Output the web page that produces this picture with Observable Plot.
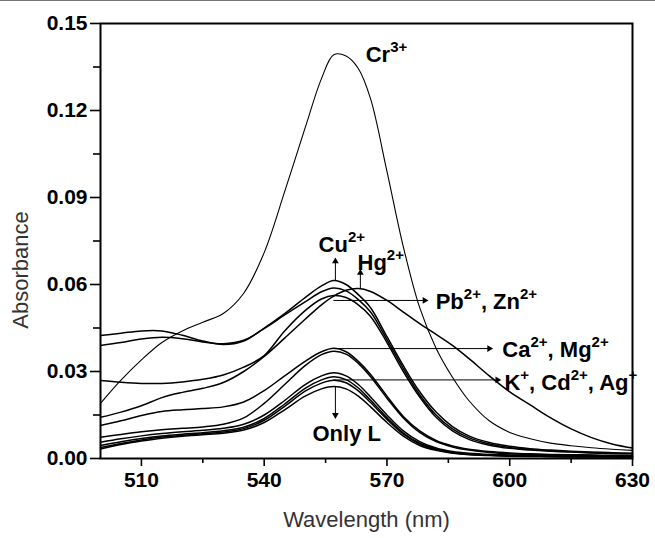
<!DOCTYPE html>
<html><head><meta charset="utf-8">
<script src="https://cdn.jsdelivr.net/npm/d3@7"></script>
<script src="https://cdn.jsdelivr.net/npm/@observablehq/plot@0.6"></script>
<style>
body{margin:0;background:#fff;}
#topline{position:absolute;left:0;top:0;width:655px;height:1px;background:#777;}
</style>
</head><body>
<div id="topline"></div>
<div id="chart"></div>
<script>
// ---- data ----
const wavelengths = [500,505,510,515,520,525,530,535,540,545,550,554,557,560,563,566,570,574,578,582,586,590,595,600,605,610,615,620,625,630];
const cr  = [0.0190,0.0270,0.0340,0.0400,0.0440,0.0470,0.0500,0.0570,0.0710,0.0920,0.1140,0.1310,0.1392,0.1388,0.1345,0.1240,0.0990,0.0730,0.0520,0.0380,0.0280,0.0200,0.0130,0.0090,0.0068,0.0053,0.0044,0.0037,0.0032,0.0028];
const cu  = [0.0424,0.0432,0.0440,0.0440,0.0425,0.0405,0.0393,0.0405,0.0450,0.0500,0.0555,0.0595,0.0614,0.0600,0.0565,0.0520,0.0420,0.0320,0.0230,0.0160,0.0110,0.0078,0.0055,0.0042,0.0034,0.0029,0.0025,0.0022,0.0020,0.0018];
const zn  = [0.0390,0.0400,0.0412,0.0418,0.0413,0.0402,0.0396,0.0408,0.0448,0.0495,0.0540,0.0575,0.0588,0.0578,0.0548,0.0505,0.0410,0.0310,0.0220,0.0150,0.0102,0.0072,0.0050,0.0038,0.0031,0.0026,0.0023,0.0020,0.0018,0.0017];
const pb  = [0.0269,0.0263,0.0259,0.0259,0.0264,0.0273,0.0288,0.0315,0.0355,0.0440,0.0510,0.0550,0.0562,0.0555,0.0530,0.0490,0.0400,0.0300,0.0212,0.0142,0.0095,0.0066,0.0046,0.0035,0.0029,0.0025,0.0022,0.0019,0.0017,0.0016];
const hg  = [0.0142,0.0160,0.0182,0.0210,0.0228,0.0242,0.0262,0.0300,0.0352,0.0415,0.0480,0.0530,0.0560,0.0580,0.0586,0.0576,0.0545,0.0505,0.0465,0.0428,0.0390,0.0345,0.0285,0.0230,0.0185,0.0140,0.0102,0.0072,0.0050,0.0036];
const ca  = [0.0114,0.0130,0.0148,0.0162,0.0168,0.0172,0.0178,0.0195,0.0234,0.0285,0.0335,0.0368,0.0380,0.0368,0.0335,0.0290,0.0215,0.0145,0.0095,0.0062,0.0043,0.0032,0.0024,0.0019,0.0016,0.0014,0.0013,0.0012,0.0011,0.0010];
const mg  = [0.0073,0.0083,0.0092,0.0099,0.0104,0.0109,0.0118,0.0140,0.0190,0.0255,0.0320,0.0358,0.0370,0.0360,0.0328,0.0282,0.0208,0.0140,0.0090,0.0058,0.0040,0.0029,0.0021,0.0016,0.0014,0.0012,0.0011,0.0010,0.0009,0.0009];
const kk  = [0.0056,0.0068,0.0078,0.0086,0.0092,0.0097,0.0104,0.0118,0.0150,0.0200,0.0255,0.0285,0.0296,0.0285,0.0255,0.0212,0.0150,0.0095,0.0058,0.0036,0.0024,0.0018,0.0014,0.0012,0.0010,0.0009,0.0008,0.0008,0.0007,0.0007];
const cd  = [0.0045,0.0058,0.0069,0.0078,0.0084,0.0089,0.0096,0.0108,0.0138,0.0188,0.0242,0.0271,0.0282,0.0272,0.0243,0.0201,0.0141,0.0088,0.0053,0.0033,0.0022,0.0016,0.0012,0.0010,0.0009,0.0008,0.0007,0.0007,0.0006,0.0006];
const ag  = [0.0038,0.0052,0.0064,0.0074,0.0080,0.0085,0.0091,0.0103,0.0132,0.0180,0.0232,0.0260,0.0270,0.0261,0.0233,0.0193,0.0135,0.0084,0.0050,0.0031,0.0020,0.0015,0.0011,0.0009,0.0008,0.0007,0.0006,0.0006,0.0005,0.0005];
const onlyL = [0.0033,0.0048,0.0060,0.0070,0.0077,0.0082,0.0087,0.0098,0.0124,0.0168,0.0215,0.0240,0.0248,0.0240,0.0215,0.0178,0.0124,0.0077,0.0045,0.0028,0.0018,0.0013,0.0010,0.0008,0.0007,0.0006,0.0005,0.0005,0.0005,0.0004];

const seriesNames  = ["Cr3+","Cu2+","Zn2+","Pb2+","Hg2+","Ca2+","Mg2+","K+","Cd2+","Ag+","Only L"];
const seriesValues = [cr, cu, zn, pb, hg, ca, mg, kk, cd, ag, onlyL];

const xTicks = [510,540,570,600,630];
const xMinorTicks = [525,555,585,615];
const yTicks = [0,0.03,0.06,0.09,0.12,0.15];
const yMinorTicks = [0.015,0.045,0.075,0.105,0.135];

const xLabel = "Wavelength (nm)";
const yLabel = "Absorbance";
const yLabelAt = 0.065; // y value where the rotated axis title is centred

// annotation text (^ marks a superscript) and anchor, in data units
const labelTexts = ["Cr^3+","Cu^2+","Hg^2+","Pb^2+, Zn^2+","Ca^2+, Mg^2+","K^+, Cd^2+, Ag^+","Only L"];
const labelX = [564.8, 553.3, 562.8, 581.9, 598.2, 598.7, 551.8];
const labelY = [0.1390, 0.0736, 0.0676, 0.0541, 0.0376, 0.0259, 0.0086];

// arrows: start -> end, in data units; dir = head rotation
const arrowX1 = [557.4, 563.5, 556.9, 556.9, 556.9, 557.4];
const arrowY1 = [0.0614, 0.0586, 0.0545, 0.0379, 0.0271, 0.0248];
const arrowX2 = [557.4, 563.5, 579.2, 595.0, 597.0, 557.4];
const arrowY2 = [0.0680, 0.0640, 0.0545, 0.0379, 0.0271, 0.0150];
const arrowDir = [0, 0, 90, 90, 90, 180];

// ---- build tables ----
const rows = seriesNames.flatMap((name, i) =>
  wavelengths.map((w, j) => ({name, w, a: seriesValues[i][j]})));
const labels = labelTexts.map((t, i) => ({t, x: labelX[i], y: labelY[i]}));
const arrows = arrowX1.map((_, i) => ({x1: arrowX1[i], y1: arrowY1[i], x2: arrowX2[i], y2: arrowY2[i], r: arrowDir[i]}));

const chart = Plot.plot({
  width: 655, height: 538,
  marginLeft: 100, marginRight: 23, marginTop: 23, marginBottom: 80,
  style: {fontFamily: "'Liberation Sans', Arial, sans-serif", background: "white", color: "black", overflow: "visible"},
  x: {domain: [500, 630]},
  y: {domain: [0, 0.15]},
  marks: [
    Plot.axisY(yMinorTicks, {tickSize: 7, tickFormat: () => "", strokeWidth: 1.6, label: null}),
    Plot.axisY(yTicks, {tickSize: 10, tickPadding: 3, tickFormat: d3.format(".2f"), fontSize: 21, fontWeight: "bold", strokeWidth: 1.6, label: null}),
    Plot.axisX(xMinorTicks, {tickSize: 5, tickFormat: () => "", strokeWidth: 1.6, label: null}),
    Plot.axisX(xTicks, {tickSize: 8, tickPadding: 6, tickFormat: d3.format("d"), fontSize: 21, fontWeight: "bold", strokeWidth: 1.6, label: null}),
    Plot.line(rows.filter(d => d.name !== "Cr3+"), {x: "w", y: "a", z: "name", stroke: "black", strokeWidth: 1.5, curve: "catmull-rom"}),
    Plot.line(rows.filter(d => d.name === "Cr3+"), {x: "w", y: "a", stroke: "black", strokeWidth: 1.1, curve: "catmull-rom"}),
    Plot.frame({stroke: "black", strokeWidth: 2}),
    Plot.link(arrows, {x1: "x1", y1: "y1", x2: "x2", y2: "y2", stroke: "black", strokeWidth: 1}),
    Plot.dot(arrows, {x: "x2", y: "y2", symbol: "triangle", r: 2.5, fill: "black", stroke: "none", rotate: "r"}),
    Plot.text(labels, {x: "x", y: "y", text: "t", textAnchor: "start", fontSize: 22, fontWeight: "bold", fill: "black"}),
    Plot.text([xLabel], {text: d => d, frameAnchor: "bottom", textAnchor: "middle", lineAnchor: "middle", dy: 61, fontSize: 22, fill: "#333"}),
    Plot.text([yLabel], {text: d => d, y: () => yLabelAt, frameAnchor: "left", textAnchor: "middle", lineAnchor: "middle", dx: -80, rotate: -90, fontSize: 22, fill: "#333"})
  ]
});

// render superscripts (text marked with ^) as tspans
const NS = "http://www.w3.org/2000/svg";
chart.querySelectorAll("text").forEach(el => {
  const s = el.textContent;
  if (!s.includes("^")) return;
  const parts = s.split(/\^([0-9]*[+\-])/);
  el.textContent = "";
  let raised = false;
  parts.forEach((p, i) => {
    if (p === "") return;
    const ts = document.createElementNS(NS, "tspan");
    ts.textContent = p;
    if (i % 2 === 1) {
      ts.setAttribute("font-size", "15");
      ts.setAttribute("dy", "-10");
      raised = true;
    } else if (raised) {
      ts.setAttribute("dy", "10");
      raised = false;
    }
    el.appendChild(ts);
  });
});

document.getElementById("chart").appendChild(chart);
</script>
</body></html>
